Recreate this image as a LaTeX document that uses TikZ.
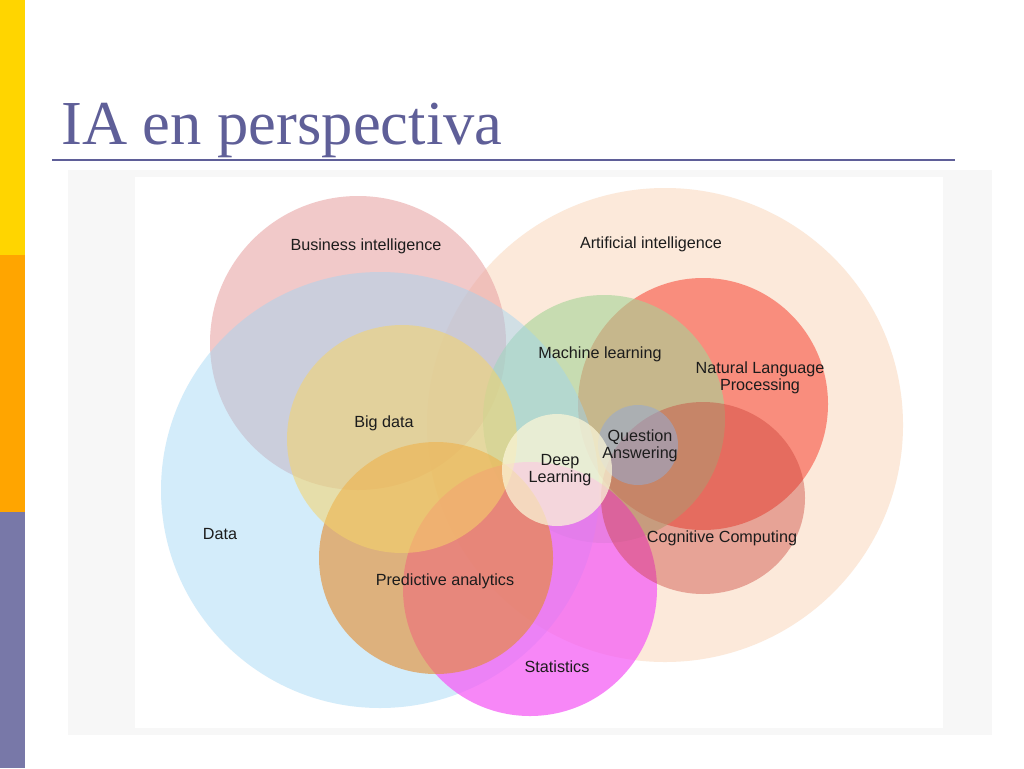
\documentclass[tikz,border=0pt]{standalone}
\usepackage{fontspec}
\setmainfont{Liberation Serif}
\newfontfamily\labelfont{Liberation Sans}
\usetikzlibrary{positioning}
\definecolor{stripeyellow}{HTML}{FFD500}
\definecolor{stripeorange}{HTML}{FFA500}
\definecolor{stripeslate}{HTML}{7878A8}
\definecolor{titleslate}{HTML}{5F5F98}
\definecolor{panelgray}{HTML}{F7F7F7}
\definecolor{labeltext}{HTML}{1C1C1C}
\definecolor{aifill}{HTML}{FCE9DA}
\definecolor{bifill}{RGB}{233,165,165}
\definecolor{nlpfill}{RGB}{248,103,86}
\definecolor{mlfill}{RGB}{165,212,150}
\definecolor{datafill}{RGB}{158,213,244}
\definecolor{bigfill}{RGB}{246,212,105}
\definecolor{statfill}{RGB}{245,95,245}
\definecolor{predfill}{RGB}{229,139,43}
\definecolor{cogfill}{RGB}{200,60,50}
\definecolor{qafill}{RGB}{150,170,210}
\definecolor{deepfill}{RGB}{250,245,215}

\begin{document}
\begin{tikzpicture}[
    x=0.25mm, y=-0.25mm,
    lbl/.style={font=\labelfont\fontsize{11.5}{12.5}\selectfont, text=labeltext,
        align=center, inner sep=1pt},
    area/.style={fill=#1},
]
\useasboundingbox (0,0) rectangle (1024,768);

% === Side stripe ===
\fill[stripeyellow] (0,0) rectangle (25,255);
\fill[stripeorange] (0,255) rectangle (25,512);
\fill[stripeslate] (0,512) rectangle (25,768);

% === Title ===
\node[anchor=base west, inner sep=0, text=titleslate,
      font=\fontsize{44.5}{50}\selectfont] (title) at (61,144) {IA en perspectiva};
\draw[titleslate, line width=0.5mm] (52,160) -- (955,160);

% === Picture panel ===
\fill[panelgray] (68,170) rectangle (992,735);
\fill[white] (135,177) rectangle (943,728);

% === Circles ===
\fill[area=aifill] (665,425) ellipse [x radius=238, y radius=237];
\fill[area=bifill, fill opacity=0.6] (358,343) ellipse [x radius=148, y radius=147];
\fill[area=nlpfill, fill opacity=0.7] (703,404) ellipse [x radius=125, y radius=126];
\fill[area=mlfill, fill opacity=0.6] (604,419) ellipse [x radius=121, y radius=124];
\fill[area=datafill, fill opacity=0.45] (380,490) ellipse [x radius=219, y radius=218];
\fill[area=statfill, fill opacity=0.75] (530,589) ellipse [x radius=127, y radius=127];
\fill[area=predfill, fill opacity=0.6] (436,558) ellipse [x radius=117, y radius=116];
\fill[area=bigfill, fill opacity=0.55] (402,439) ellipse [x radius=115, y radius=114];
\fill[area=cogfill, fill opacity=0.4] (703,498) ellipse [x radius=102, y radius=96];
\fill[area=qafill, fill opacity=0.55] (638,445) ellipse [x radius=40, y radius=40];
\fill[area=deepfill, fill opacity=0.75] (557,470) ellipse [x radius=55, y radius=56];

% === Labels ===
\node[lbl] (bi) at (366,246) {Business intelligence};
\node[lbl] (ai) at (651,244) {Artificial intelligence};
\node[lbl] (ml) at (600,354) {Machine learning};
\node[lbl] (nlp) at (760,378) {Natural Language\\Processing};
\node[lbl] (big) at (384,423) {Big data};
\node[lbl] (qa) at (640,446) {Question\\Answering};
\node[lbl] (deep) at (560,470) {Deep\\Learning};
\node[lbl] (data) at (220,534) {Data};
\node[lbl] (cog) at (722,538) {Cognitive Computing};
\node[lbl] (pred) at (445,581) {Predictive analytics};
\node[lbl] (stat) at (557,667) {Statistics};

\end{tikzpicture}
\end{document}
